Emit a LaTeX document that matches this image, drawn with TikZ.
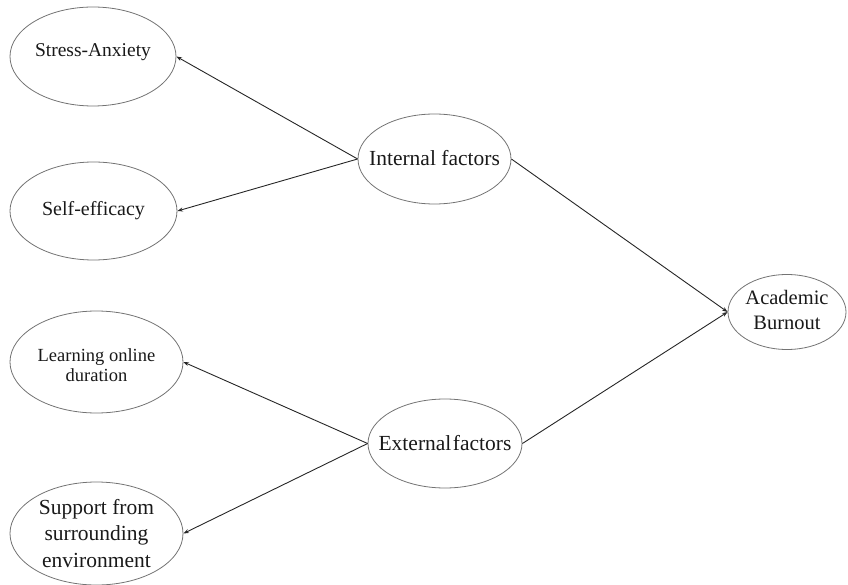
\documentclass[tikz,border=0pt]{standalone}
\usepackage{fontspec}
\setmainfont{Liberation Serif}
\usetikzlibrary{shapes.geometric,arrows.meta}
\begin{document}
\begin{tikzpicture}[x=1pt,y=-1pt,
  oval/.style={ellipse,draw=black!55,line width=0.8pt,inner sep=0pt},
  lab/.style={align=center,text=black!90,inner sep=0pt},
  conn/.style={draw=black!85,line width=0.9pt,-{Stealth[length=5.5pt,width=4pt]}}]
\useasboundingbox (0,0) rectangle (848,585);
\node[oval,minimum width=166pt,minimum height=99pt,label={[lab,yshift=4pt,font=\fontsize{19.5}{23}\selectfont]center:Stress-Anxiety}] (sa) at (93,56.5) {};
\node[oval,minimum width=167pt,minimum height=98pt,label={[lab,font=\fontsize{20}{23}\selectfont]center:Self-efficacy}] (se) at (93.5,211) {};
\node[oval,minimum width=173pt,minimum height=102pt,label={[lab,yshift=-3pt,font=\fontsize{18.5}{20}\selectfont]center:Learning online\\duration}] (lo) at (96.5,362) {};
\node[oval,minimum width=173pt,minimum height=103pt,label={[lab,font=\fontsize{21.5}{26.7}\selectfont]center:Support from\\surrounding\\environment}] (sp) at (96.5,533.5) {};
\node[oval,minimum width=153pt,minimum height=90pt,label={[lab,yshift=1pt,font=\fontsize{21.5}{25}\selectfont]center:Internal factors}] (in) at (434.5,159) {};
\node[oval,minimum width=154pt,minimum height=89pt,label={[lab,font=\fontsize{21.5}{25}\selectfont]center:External\hspace{1.5pt}factors}] (ex) at (445,443.5) {};
\node[oval,minimum width=118pt,minimum height=75pt,label={[lab,yshift=2pt,font=\fontsize{20.5}{25}\selectfont]center:Academic\\Burnout}] (ab) at (787,312) {};
\draw[conn] (in.west) -- (sa.east);
\draw[conn] (in.west) -- (se.east);
\draw[conn] (ex.west) -- (lo.east);
\draw[conn] (ex.west) -- (sp.east);
\draw[conn] (in.east) -- (ab.west);
\draw[conn] (ex.east) -- (ab.west);
\end{tikzpicture}
\end{document}
